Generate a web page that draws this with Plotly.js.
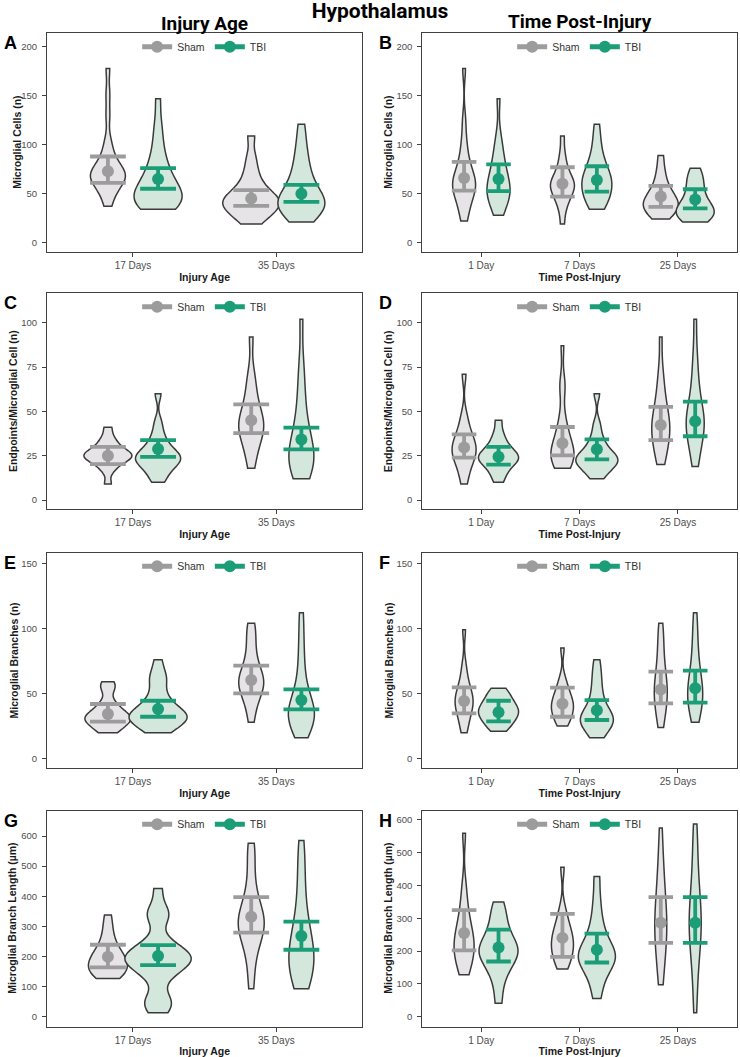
<!DOCTYPE html>
<html><head><meta charset="utf-8">
<script src="https://cdn.plot.ly/plotly-3.0.1.min.js"></script>
<style>html,body{margin:0;padding:0;background:#fff}#chart{width:740px;height:1057px}</style>
</head><body><div id="chart"></div>
<script>
// ================= DATA =================
const groups = ['Sham', 'TBI'];
const ageCats = ['17 Days', '35 Days'];
const timeCats = ['1 Day', '7 Days', '25 Days'];

// ---- Panel A: Microglial Cells (n) by Injury Age ----
const A_shamValues = [
  [37, 45, 52, 57, 60, 62, 64, 66, 68, 70, 71, 73, 75, 78, 82, 88, 95, 105, 130, 152, 178],
  [19, 24, 28, 31, 34, 36, 38, 40, 42, 44, 46, 48, 51, 55, 60, 67, 76, 88, 109]
];
const A_tbiValues = [
  [34, 35, 37, 39, 41, 43, 45, 47, 49, 51, 54, 57, 60, 64, 68, 73, 79, 86, 95, 108, 122, 147],
  [21, 25, 29, 32, 35, 37, 39, 41, 43, 45, 48, 52, 56, 61, 67, 74, 82, 92, 104, 121]
];
const A_shamMean = [73, 45], A_shamLow = [61, 37.5], A_shamHigh = [88, 53.5];
const A_tbiMean = [65, 50], A_tbiLow = [55, 41.5], A_tbiHigh = [76, 59];

// ---- Panel B: Microglial Cells (n) by Time Post-Injury ----
const B_shamValues = [
  [22, 30, 38, 44, 48, 52, 55, 57, 60, 62, 65, 68, 72, 77, 84, 93, 105, 125, 178],
  [19, 33, 40, 45, 49, 52, 55, 57, 59, 61, 63, 66, 70, 75, 82, 92, 109],
  [24, 27, 30, 33, 35, 37, 39, 41, 43, 45, 48, 51, 55, 60, 67, 76, 89]
];
const B_tbiValues = [
  [28, 35, 40, 44, 47, 50, 53, 56, 59, 62, 66, 71, 76, 82, 90, 97, 110, 147],
  [34, 38, 42, 46, 50, 53, 56, 59, 62, 65, 68, 71, 75, 80, 86, 95, 106, 121],
  [21, 23, 25, 27, 29, 30, 32, 34, 36, 38, 41, 45, 50, 55, 60, 65, 70, 76]
];
const B_shamMean = [66, 60, 47], B_shamLow = [53, 47, 36.5], B_shamHigh = [82.5, 77, 58];
const B_tbiMean = [65, 64, 44], B_tbiLow = [52.5, 52, 35], B_tbiHigh = [80, 78, 54.5];

// ---- Panel C: Endpoints/Microglial Cell (n) by Injury Age ----
const C_shamValues = [
  [9, 16, 19, 21, 22, 23, 24, 25, 25, 26, 27, 28, 29, 31, 33, 36, 41],
  [18, 25, 30, 34, 37, 39, 41, 43, 45, 47, 50, 54, 59, 65, 72, 92]
];
const C_tbiValues = [
  [10, 13, 16, 18, 20, 21, 22, 23, 24, 25, 26, 27, 29, 31, 34, 38, 44, 60],
  [12, 14, 17, 19, 21, 23, 25, 27, 29, 32, 35, 39, 44, 50, 58, 67, 78, 102]
];
const C_shamMean = [25, 45], C_shamLow = [20.3, 37.8], C_shamHigh = [30, 54];
const C_tbiMean = [28.8, 34.2], C_tbiLow = [24.4, 28.6], C_tbiHigh = [33.8, 40.8];

// ---- Panel D: Endpoints/Microglial Cell (n) by Time Post-Injury ----
const D_shamValues = [
  [9, 15, 19, 22, 24, 26, 28, 29, 31, 33, 35, 38, 42, 48, 71],
  [18, 19, 21, 23, 24, 25, 27, 28, 30, 32, 35, 38, 42, 48, 63, 66, 87],
  [20, 24, 28, 31, 34, 37, 39, 41, 43, 45, 48, 51, 55, 60, 66, 74, 92]
];
const D_tbiValues = [
  [10, 14, 17, 19, 21, 22, 23, 24, 25, 26, 27, 29, 31, 34, 38, 45],
  [12, 15, 17, 19, 20, 21, 22, 23, 24, 25, 26, 28, 30, 33, 37, 43, 60],
  [19, 25, 30, 34, 37, 40, 42, 44, 46, 48, 51, 55, 60, 66, 74, 84, 102]
];
const D_shamMean = [29.7, 32, 42.3], D_shamLow = [23.9, 25.2, 33.8], D_shamHigh = [37, 41.2, 52.6];
const D_tbiMean = [24.4, 28.6, 44.5], D_tbiLow = [20, 23, 36], D_tbiHigh = [30, 34.2, 55.5];

// ---- Panel E: Microglial Branches (n) by Injury Age ----
const E_shamValues = [
  [20, 22, 24, 26, 28, 29, 30, 31, 32, 33, 34, 36, 38, 41, 44, 53, 56, 59],
  [28, 38, 44, 49, 52, 55, 57, 59, 61, 63, 66, 70, 75, 82, 90, 98, 104]
];
const E_tbiValues = [
  [20, 22, 25, 27, 29, 30, 31, 32, 33, 34, 35, 37, 39, 42, 46, 50, 58, 62, 66, 76],
  [16, 20, 24, 27, 30, 32, 34, 36, 38, 41, 44, 48, 53, 60, 70, 82, 96, 112]
];
const E_shamMean = [34.3, 60.4], E_shamLow = [28.4, 50.2], E_shamHigh = [42, 71.4];
const E_tbiMean = [38.1, 45], E_tbiLow = [32.2, 37.9], E_tbiHigh = [44.5, 53.2];

// ---- Panel F: Microglial Branches (n) by Time Post-Injury ----
const F_shamValues = [
  [20, 26, 31, 35, 38, 41, 43, 45, 47, 50, 53, 57, 63, 72, 99],
  [25, 28, 31, 34, 36, 38, 40, 42, 44, 46, 49, 52, 56, 62, 85],
  [24, 30, 36, 41, 45, 48, 51, 54, 57, 61, 66, 72, 79, 88, 96, 104]
];
const F_tbiValues = [
  [21, 24, 27, 29, 31, 33, 35, 36, 37, 39, 41, 43, 45, 48, 51, 54],
  [16, 20, 23, 26, 28, 29, 30, 31, 33, 35, 38, 42, 47, 53, 60, 67, 76],
  [28, 33, 38, 42, 45, 48, 51, 54, 57, 61, 66, 72, 80, 89, 100, 112]
];
const F_shamMean = [44.3, 42.2, 53.2], F_shamLow = [34.8, 32.2, 42.5], F_shamHigh = [54.8, 54.5, 66.8];
const F_tbiMean = [35.6, 37.1, 54], F_tbiLow = [28.7, 29.7, 43], F_tbiHigh = [44.5, 45, 67.6];

// ---- Panel G: Microglial Branch Length (µm) by Injury Age ----
const G_shamValues = [
  [127, 135, 142, 150, 158, 165, 172, 180, 188, 196, 205, 215, 228, 245, 270, 300, 338],
  [93, 160, 210, 240, 262, 280, 295, 305, 318, 330, 345, 362, 385, 420, 470, 530, 576]
];
const G_tbiValues = [
  [13, 40, 50, 60, 125, 145, 160, 172, 180, 186, 192, 198, 205, 212, 222, 235, 255, 325, 340, 355, 426],
  [93, 110, 130, 150, 165, 180, 195, 210, 225, 242, 262, 285, 315, 350, 400, 460, 520, 585]
];
const G_shamMean = [199, 332], G_shamLow = [164, 279], G_shamHigh = [239, 397];
const G_tbiMean = [201.5, 268], G_tbiLow = [171.6, 222.5], G_tbiHigh = [238, 315.5];

// ---- Panel H: Microglial Branch Length (µm) by Time Post-Injury ----
const H_shamValues = [
  [128, 145, 165, 180, 195, 205, 215, 228, 240, 255, 270, 290, 315, 350, 400, 559],
  [145, 160, 175, 188, 200, 210, 220, 230, 240, 252, 265, 280, 300, 330, 455],
  [97, 140, 180, 210, 235, 255, 275, 295, 315, 340, 370, 405, 445, 495, 575]
];
const H_tbiValues = [
  [41, 95, 130, 150, 165, 178, 188, 196, 204, 212, 222, 235, 250, 270, 295, 320, 349],
  [55, 95, 125, 145, 158, 168, 176, 184, 192, 202, 214, 228, 248, 275, 310, 360, 427],
  [12, 90, 150, 190, 220, 245, 265, 285, 305, 325, 350, 380, 420, 470, 530, 587]
];
const H_shamMean = [255, 240, 286], H_shamLow = [202, 182, 224.5], H_shamHigh = [324.5, 313, 364];
const H_tbiMean = [211, 204, 286], H_tbiLow = [168, 165, 224.5], H_tbiHigh = [265, 253, 364];

const yTitles = ['Microglial Cells (n)', 'Endpoints/Microglial Cell (n)', 'Microglial Branches (n)', 'Microglial Branch Length (µm)'];
const xTitles = ['Injury Age', 'Time Post-Injury'];
const panelLetters = ['A', 'B', 'C', 'D', 'E', 'F', 'G', 'H'];

// ================= STYLE / LAYOUT =================
const W = 740, H = 1057;
const BIG = 'Roboto, "Liberation Sans", Arial, sans-serif';
const SMALL = '"Liberation Sans", Arial, sans-serif';
const colShamFill = '#e6e4e6', colTbiFill = '#d4e7dc';
const colSham = '#9c9c9c', colTbi = '#1b9e77';
const outline = '#3a3a3a';
const colX = [[47, 362.3], [422.3, 737]];
const rowY = [[33.3, 252.3], [293.3, 509.3], [552.7, 768.3], [810.7, 1026.7]];
const yTitleX = [[17, 388], [12.8, 388], [13, 388], [12, 388]];
const offsets = [-0.175, 0.175];

// ggplot-like (bw.nrd0) kernel bandwidth
function nrd0(v) {
  const s = v.slice().sort((a, b) => a - b), n = s.length;
  const m = s.reduce((a, b) => a + b, 0) / n;
  const sd = Math.sqrt(s.reduce((a, b) => a + (b - m) * (b - m), 0) / (n - 1));
  const q = p => { const h = (n - 1) * p, lo = Math.floor(h); return s[lo] + (h - lo) * ((s[lo + 1] ?? s[lo]) - s[lo]); };
  const iqr = q(0.75) - q(0.25);
  return 0.9 * Math.min(sd, iqr / 1.34) * Math.pow(n, -0.2);
}

const panels = [
  {cats: ageCats, sham: A_shamValues, tbi: A_tbiValues, sm: [A_shamMean, A_shamLow, A_shamHigh], tm: [A_tbiMean, A_tbiLow, A_tbiHigh], yr: [-10, 214], dt: 50, wS: [35, 57], wT: [48, 47]},
  {cats: timeCats, sham: B_shamValues, tbi: B_tbiValues, sm: [B_shamMean, B_shamLow, B_shamHigh], tm: [B_tbiMean, B_tbiLow, B_tbiHigh], yr: [-10, 214], dt: 50, wS: [23, 24, 35], wT: [23, 30, 38]},
  {cats: ageCats, sham: C_shamValues, tbi: C_tbiValues, sm: [C_shamMean, C_shamLow, C_shamHigh], tm: [C_tbiMean, C_tbiLow, C_tbiHigh], yr: [-5.2, 116.6], dt: 25, wS: [48, 25], wT: [45, 25]},
  {cats: timeCats, sham: D_shamValues, tbi: D_tbiValues, sm: [D_shamMean, D_shamLow, D_shamHigh], tm: [D_tbiMean, D_tbiLow, D_tbiHigh], yr: [-5.2, 116.6], dt: 25, wS: [24, 23, 18], wT: [40, 42, 18]},
  {cats: ageCats, sham: E_shamValues, tbi: E_tbiValues, sm: [E_shamMean, E_shamLow, E_shamHigh], tm: [E_tbiMean, E_tbiLow, E_tbiHigh], yr: [-7.4, 158.2], dt: 50, wS: [46, 25], wT: [58, 26]},
  {cats: timeCats, sham: F_shamValues, tbi: F_tbiValues, sm: [F_shamMean, F_shamLow, F_shamHigh], tm: [F_tbiMean, F_tbiLow, F_tbiHigh], yr: [-7.4, 158.2], dt: 50, wS: [18, 22, 13], wT: [40, 33, 15]},
  {cats: ageCats, sham: G_shamValues, tbi: G_tbiValues, sm: [G_shamMean, G_shamLow, G_shamHigh], tm: [G_tbiMean, G_tbiLow, G_tbiHigh], yr: [-33, 684], dt: 100, wS: [39, 26], wT: [66, 25]},
  {cats: timeCats, sham: H_shamValues, tbi: H_tbiValues, sm: [H_shamMean, H_shamLow, H_shamHigh], tm: [H_tbiMean, H_tbiLow, H_tbiHigh], yr: [-30.6, 627.5], dt: 100, wS: [20, 22, 12], wT: [39, 37, 12]}
];

const traces = [];
const layout = {
  width: W, height: H, autosize: false,
  margin: {l: 0, r: 0, t: 0, b: 0},
  paper_bgcolor: '#fff', plot_bgcolor: '#fff',
  font: {family: SMALL, size: 10, color: '#333'},
  violinmode: 'overlay',
  title: {text: 'Hypothalamus', x: 380 / W, xanchor: 'center', xref: 'paper', y: 1 - 11 / H, yanchor: 'middle', yref: 'paper',
          font: {size: 21, weight: 'bold', color: '#000', family: BIG}},
  annotations: [],
  hovermode: false
};

panels.forEach((p, k) => {
  const col = k % 2, row = Math.floor(k / 2);
  const sfx = k === 0 ? '' : String(k + 1);
  const xa = 'x' + sfx, ya = 'y' + sfx;
  const legKey = 'legend' + sfx;
  const [x0px, x1px] = colX[col];
  const [topPx, botPx] = rowY[row];
  const xr = [0.4, p.cats.length + 0.6];
  const ppu = (x1px - x0px) / (xr[1] - xr[0]);
  const capPx = 0.125 * ppu;

  [[p.sham, p.sm, p.wS, colShamFill, colSham, 'Sham'], [p.tbi, p.tm, p.wT, colTbiFill, colTbi, 'TBI']].forEach((g, gi) => {
    const [vals, stats, wPx, fill, col2, name] = g;
    vals.forEach((v, c) => {
      traces.push({
        type: 'violin', y: v, x0: c + 1 + offsets[gi], width: wPx[c] / ppu, bandwidth: nrd0(v),
        xaxis: xa, yaxis: ya, spanmode: 'hard', scalemode: 'width', side: 'both',
        points: false, box: {visible: false}, meanline: {visible: false},
        fillcolor: fill, line: {color: outline, width: 1.5}, showlegend: false, hoverinfo: 'skip', name: name
      });
    });
    const [mean, lo, hi] = stats;
    traces.push({
      type: 'scatter', mode: 'markers', xaxis: xa, yaxis: ya,
      x: p.cats.map((_, c) => c + 1 + offsets[gi]), y: mean,
      marker: {size: 12, color: col2},
      error_y: {type: 'data', symmetric: false, array: hi.map((h, i) => h - mean[i]), arrayminus: lo.map((l, i) => mean[i] - l),
                color: col2, thickness: 3.8, width: capPx},
      showlegend: false, hoverinfo: 'skip', name: name
    });
    traces.push({
      type: 'scatter', mode: 'lines+markers', xaxis: xa, yaxis: ya, x: [null], y: [null],
      name: name, legend: legKey, showlegend: true,
      line: {color: col2, width: 5}, marker: {size: 12, color: col2}
    });
  });

  const axBase = {showline: true, mirror: true, linecolor: '#404040', linewidth: 1.1, ticks: 'outside', ticklen: 4,
                  tickcolor: '#404040', tickwidth: 1, showgrid: false, zeroline: false, fixedrange: true};
  layout['xaxis' + sfx] = Object.assign({}, axBase, {
    domain: [x0px / W, x1px / W], anchor: ya, range: xr,
    tickmode: 'array', tickvals: p.cats.map((_, c) => c + 1), ticktext: p.cats,
    tickfont: {size: 10, color: '#4d4d4d', family: SMALL},
    title: {text: xTitles[col], font: {size: 10.5, weight: 'bold', color: '#1a1a1a', family: SMALL}, standoff: 3}
  });
  layout['yaxis' + sfx] = Object.assign({}, axBase, {
    domain: [1 - botPx / H, 1 - topPx / H], anchor: xa, range: p.yr, dtick: p.dt, tick0: 0,
    tickfont: {size: 9.5, color: '#4d4d4d', family: SMALL}, ticklabelstandoff: 3
  });
  layout.annotations.push({text: yTitles[row], textangle: -90, xref: 'paper', yref: 'paper', showarrow: false,
    x: yTitleX[row][col] / W, xanchor: 'center', y: 1 - (topPx + botPx) / 2 / H, yanchor: 'middle',
    font: {size: 10.5, weight: 'bold', color: '#1a1a1a', family: SMALL}});
  layout[legKey] = {orientation: 'h', x: (x0px + x1px) / 2 / W, xanchor: 'center', xref: 'paper',
                    y: 1 - (topPx - 1) / H, yanchor: 'top', yref: 'paper', bgcolor: 'rgba(0,0,0,0)',
                    font: {size: 10.5, color: '#333', family: SMALL}, itemclick: false, itemdoubleclick: false};
  layout.annotations.push({text: panelLetters[k], xref: 'paper', yref: 'paper', showarrow: false,
    x: (col === 0 ? 2 : 377) / W, xanchor: 'left', y: 1 - (topPx + 10) / H, yanchor: 'middle',
    font: {size: 18, weight: 'bold', color: '#000', family: SMALL}});
});

layout.annotations.push({text: 'Injury Age', xref: 'paper', yref: 'paper', showarrow: false, x: 204.5 / W, y: 1 - 23 / H,
  xanchor: 'center', yanchor: 'middle', font: {size: 19, weight: 'bold', color: '#000', family: BIG}});
layout.annotations.push({text: 'Time Post-Injury', xref: 'paper', yref: 'paper', showarrow: false, x: 579.5 / W, y: 1 - 22 / H,
  xanchor: 'center', yanchor: 'middle', font: {size: 19, weight: 'bold', color: '#000', family: BIG}});

Plotly.newPlot('chart', traces, layout, {displayModeBar: false, staticPlot: true});
</script>
</body></html>
